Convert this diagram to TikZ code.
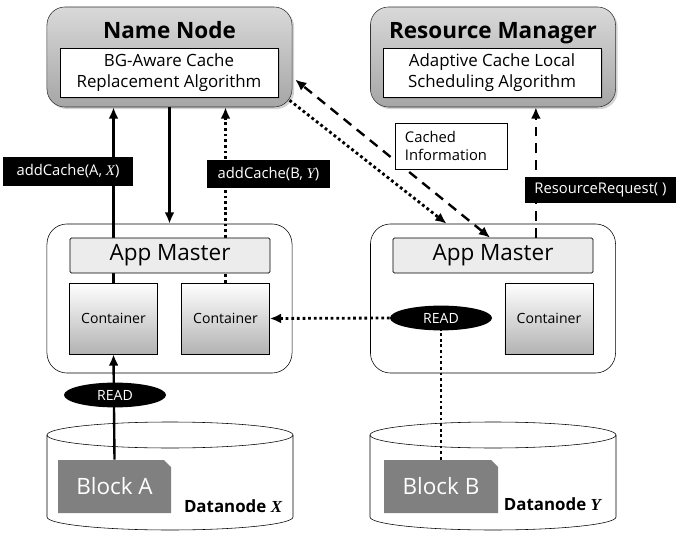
\documentclass[tikz,border=0pt]{standalone}
\usepackage{fontspec}
\setmainfont{Open Sans}
\newfontfamily\varfont{Liberation Serif}
\usetikzlibrary{arrows.meta,shadows,shapes.geometric}
\tikzset{
  softshadow/.style={drop shadow={shadow xshift=1.5pt,shadow yshift=-1.5pt,opacity=0.35}},
  server/.style={draw=black!80, rounded corners=0.45cm, top color=gray!30, bottom color=gray!70,
    softshadow, minimum width=6.125cm, minimum height=2.5cm},
  servertitle/.style={anchor=base, font=\bfseries\fontsize{16}{18}\selectfont},
  algbox/.style={draw, fill=white, softshadow, minimum width=5.45cm, minimum height=1.225cm,
    inner sep=0pt, align=center, font=\fontsize{12}{14.5}\selectfont},
  appbox/.style={draw, fill=white, rounded corners=0.5cm, minimum width=6.125cm, minimum height=3.725cm},
  ambar/.style={draw, fill=gray!15, rounded corners=1pt, minimum width=5cm, minimum height=0.875cm,
    inner sep=0pt, font=\fontsize{16}{18}\selectfont},
  cont/.style={draw, top color=white, bottom color=gray!60, minimum width=2.2cm, minimum height=1.775cm,
    inner sep=0pt, font=\fontsize{10}{12}\selectfont},
  blocklbl/.style={text=white, minimum width=2.825cm, minimum height=1.325cm, inner sep=0pt,
    font=\fontsize{16}{18}\selectfont},
  dnlbl/.style={anchor=base east, font=\bfseries\fontsize{12}{14}\selectfont},
  readop/.style={ellipse, fill=black, text=white, minimum width=2.55cm, minimum height=0.62cm,
    inner sep=0pt, font=\fontsize{10}{12}\selectfont},
  msg/.style={fill=black, text=white, inner sep=0pt, font=\fontsize{10.5}{12}\selectfont},
  flow/.style={line width=1.7pt, -{Latex[length=8pt,width=7pt]}},
  dotline/.style={line width=2pt, dash pattern=on 2pt off 2pt},
  dashline/.style={line width=1.7pt, dash pattern=on 7pt off 5pt}
}
\begin{document}
\begin{tikzpicture}[x=0.025cm, y=-0.025cm]
  \useasboundingbox (0,0) rectangle (686,552);
  % servers
  \node[server] (nn) at (169.5,57) {};
  \node[servertitle] (nnt) at (169.5,38) {Name Node};
  \node[algbox] (nnalg) at (169,72.5) {BG-Aware Cache\\Replacement Algorithm};
  \node[server] (rm) at (493,57) {};
  \node[servertitle] (rmt) at (493,38) {Resource Manager};
  \node[algbox] (rmalg) at (492,72.5) {Adaptive Cache Local\\Scheduling Algorithm};
  % applications
  \node[appbox] (appA) at (169.5,298.5) {};
  \node[appbox] (appB) at (493,298.5) {};
  \node[cont] (cA1) at (113.5,318.5) {Container};
  \node[cont] (cA2) at (225.5,318.5) {Container};
  \node[cont] (cB) at (549,318.5) {Container};
  % datanodes
  \draw[fill=white] (47,435) -- (47,517) arc[start angle=180, end angle=0, x radius=123, y radius=13] -- (293,435);
  \draw (170,435) ellipse[x radius=123, y radius=13];
  \fill[gray] (58,460) -- (164,460) -- (171,467) -- (171,513) -- (58,513) -- cycle;
  \node[blocklbl] (blkA) at (114.5,486.5) {Block A};
  \node[dnlbl] (dnX) at (287,512) {Datanode {\varfont\itshape X}};
  \draw[fill=white] (370,435) -- (370,517) arc[start angle=180, end angle=0, x radius=123, y radius=13] -- (616,435);
  \draw (493,435) ellipse[x radius=123, y radius=13];
  \fill[gray] (384,460) -- (491,460) -- (498,467) -- (498,513) -- (384,513) -- cycle;
  \node[blocklbl] (blkB) at (441,486.5) {Block B};
  \node[dnlbl] (dnY) at (606,510) {Datanode {\varfont\itshape Y}};
  % reads and cache reports
  \draw[flow] (blkA.north) -- (cA1.south);
  \node[readop] (readA) at (115,395) {READ};
  \draw[flow] (cA1.north) -- (cA1.north |- nn.south);
  \draw[flow, dotline] (cA2.north) -- (cA2.north |- nn.south);
  \node[ambar] (amA) at (170,255.5) {App Master};
  \node[ambar] (amB) at (493,255.5) {App Master};
  \draw[flow] (nn.south) -- (appA.north);
  \draw[dotline] (blkB.north) -- (441,330);
  \node[readop] (readB) at (441,318) {READ};
  \draw[flow, dotline] (readB.west) -- (cA2.east);
  \coordinate (rrfoot) at ([xshift=30.5pt]amB.north);
  \draw[flow, dashline] (rrfoot) -- (rrfoot |- rm.south);
  \draw[dashline, {Latex[length=8pt,width=7pt]}-{Latex[length=8pt,width=7pt]}]
    ([xshift=-2pt]amB.north) -- ([xshift=2pt,yshift=-16pt]nn.east);
  \draw[flow, dotline] ([xshift=-2pt,yshift=5pt]nn.south east) -- ([xshift=-33pt]appB.north);
  % labels
  \node[draw, fill=white, text width=2.3cm, inner xsep=7pt, minimum height=1.15cm, align=left,
    font=\fontsize{10.5}{13}\selectfont] (cinfo) at (451,146) {Cached\\Information};
  \node[msg, minimum width=3.25cm, minimum height=0.725cm] (msgA) at (68,171.5) {addCache(A, {\varfont\itshape X})};
  \node[msg, minimum width=3.075cm, minimum height=0.7cm] (msgB) at (268.5,174) {addCache(B, {\varfont\itshape Y})};
  \node[msg, minimum width=3.775cm, minimum height=0.65cm] (msgR) at (600.5,190) {ResourceRequest( )};
\end{tikzpicture}
\end{document}
